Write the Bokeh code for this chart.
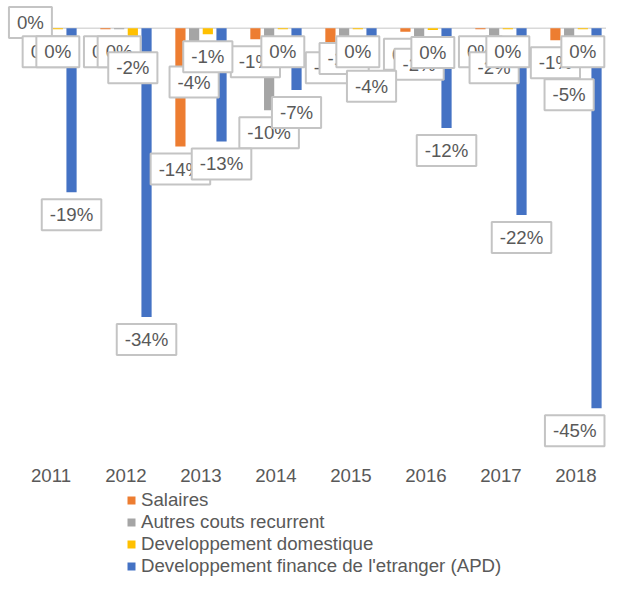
from bokeh.plotting import figure
from bokeh.models import Range1d, Legend, LegendItem, ColumnDataSource
from bokeh.embed import file_html
from bokeh.resources import INLINE
from bokeh.core.properties import value
import math

years = ["2011", "2012", "2013", "2014", "2015", "2016", "2017", "2018"]
series_names = ["Salaires", "Autres couts recurrent", "Developpement domestique",
                "Developpement finance de l'etranger (APD)"]
salaires = [0.0, -0.1, -14.0, -1.3, -2.0, -0.4, -0.1, -1.4]
autres = [-0.1, -0.1, -3.7, -9.7, -0.9, -1.6, -2.0, -5.2]
domestique = [-0.1, -2.0, -0.7, -0.1, -0.1, -0.2, -0.1, -0.1]
apd = [-19.4, -34.2, -13.4, -7.3, -4.2, -11.8, -22.1, -45.0]
series = [salaires, autres, domestique, apd]
colors = ["#ED7D31", "#A5A5A5", "#FFC000", "#4472C4"]

W, H = 606, 577
PX_PER_UNIT = 8.443          # pixels per percentage point
AXIS_MAX = 3.3               # top of the drawing area (percent)
AXIS_MIN = -50.0             # bottom of the value axis (percent)
Y1 = AXIS_MAX
Y0 = AXIS_MAX - H / PX_PER_UNIT
X0, X1 = -0.673, 7.407
px_per_cat = W / (X1 - X0)
zero_px = Y1 * PX_PER_UNIT

FONT = "Liberation Sans"
FSIZE_PX = 18.67
TXT = "#595959"

p = figure(width=W, height=H, x_range=Range1d(X0, X1), y_range=Range1d(Y0, Y1),
           output_backend="svg", toolbar_location=None,
           x_axis_location=None, y_axis_location=None,
           min_border_left=0, min_border_right=0, min_border_top=0,
           min_border_bottom=0)
p.outline_line_color = None
p.xgrid.visible = False
p.ygrid.visible = False
p.background_fill_color = "white"
p.border_fill_color = "white"

n = len(years)
p.segment(x0=[-0.5], x1=[n - 0.5], y0=[0], y1=[0], line_color="#D9D9D9", line_width=1.5)

step = 0.1827
bw = 0.136
renderers = []
for k, (vals, col) in enumerate(zip(series, colors)):
    off = (k - 1.5) * step
    xs = [i + off for i in range(n)]
    r = p.vbar(x=xs, top=vals, bottom=0, width=bw, fill_color=col, line_color=None)
    renderers.append(r)


def fmt(v):
    r = int(math.floor(abs(v) + 0.5))
    return ("-" if v < 0 and r != 0 else "") + f"{r}%"


CHAR_W = {"-": 0.333, "%": 0.889}


def box_width(t):
    return sum(CHAR_W.get(c, 0.556) for c in t) * FSIZE_PX + 16 + 2


for k, vals in enumerate(series):
    off = (k - 1.5) * step
    xs = [i + off for i in range(n)]
    texts = [fmt(v) for v in vals]
    yoffs, xoffs = [], []
    for x, v, t in zip(xs, vals, texts):
        bar_end = zero_px - v * PX_PER_UNIT
        if v < 0:
            yoffs.append(22.5)
        else:
            center = max(bar_end - 22.5, 22.0)
            yoffs.append(center - bar_end)
        cx = (x - X0) * px_per_cat
        right = cx + box_width(t) / 2
        xoffs.append(min(0.0, W - 1 - right))
    src = ColumnDataSource(dict(x=xs, y=vals, t=texts, yo=yoffs, xo=xoffs))
    p.text(x="x", y="y", text="t", y_offset="yo", x_offset="xo", source=src,
           text_font=value(FONT), text_font_size="14pt", text_color=TXT,
           text_align="center", text_baseline="middle",
           background_fill_color="white", border_line_color="#C4C4C4",
           border_line_width=2, padding=(8, 5))

# category (year) labels just below the value axis minimum
year_y = AXIS_MIN - 25 / PX_PER_UNIT
p.text(x=list(range(n)), y=[year_y] * n, text=years,
       text_font=value(FONT), text_font_size="14pt", text_color=TXT,
       text_align="center", text_baseline="middle")

legend = Legend(items=[LegendItem(label=nm, renderers=[r]) for nm, r in zip(series_names, renderers)],
                location=(126, 0), orientation="vertical",
                glyph_width=10, glyph_height=10, label_standoff=5, spacing=0,
                padding=0, margin=0, label_height=22,
                label_text_font=FONT, label_text_font_size="14pt", label_text_color=TXT,
                border_line_color=None, background_fill_alpha=0)
p.add_layout(legend, "center")

open("out.html", "w").write(file_html(p, INLINE))
